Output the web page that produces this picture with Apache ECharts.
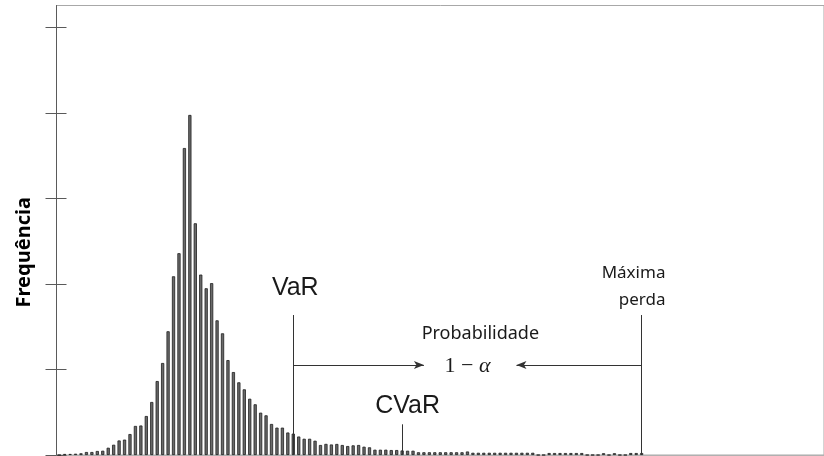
<!DOCTYPE html>
<html lang="pt">
<head>
  <meta charset="UTF-8">
  <title>VaR e CVaR</title>
  <script src="https://cdn.jsdelivr.net/npm/echarts@6/dist/echarts.min.js"></script>
  <style>
    body { margin: 0; background: #fff; }
    #main { width: 824px; height: 456px; }
  </style>
</head>
<body>
<div id="main"></div>
<script>
  // histograma das perdas (frequência por classe)
  const binCount = 141;
  const freq = [
    0,
    1.2, 1.2, 1.5, 2, 3.5, 3.5, 4.7, 5, 8.5, 12,
    17, 18, 24.5, 34, 34.5, 45.6, 62, 86.5, 107.6, 144.7,
    209, 236, 359, 397.7, 271, 211, 195, 201, 157.5, 142.3,
    111, 97, 85, 76.8, 65.8, 59.3, 49.5, 46.4, 36.3, 32,
    32, 26.3, 25, 21.6, 19, 19, 16.7, 11.7, 13, 12.3,
    12.9, 11.7, 10.5, 11.3, 11.7, 9.7, 9, 6.2, 6.2, 6.2,
    5.8, 5.8, 5.3, 5, 5, 3.2, 3.2, 3.2, 3.2, 3.2,
    3.2, 3.2, 3.2, 3.2, 4.1, 2.6, 2.6, 2.6, 2.6, 2.6,
    2.6, 2.6, 2.6, 2.6, 2.6, 2.6, 2.6, 0, 0, 2.3,
    2.3, 2.3, 2.3, 2.3, 2.3, 2.3, 0, 0, 0, 2.1,
    0, 2.1, 0, 0, 2.3, 2.3, 2.3
  ];
  const yTicks = [0, 100, 200, 300, 400, 500];
  const yMax = 525.7;

  // posições das marcas (índice da classe, altura)
  const varBin = 43, cvarBin = 63, maxBin = 107;
  const markerTop = 163.7, cvarTop = 35.9, arrowLevel = 105.3;
  const arrowTipRight = 67, arrowTipLeft = 84;

  const bins = Array.from({ length: binCount }, (_, i) => String(i));

  const chart = echarts.init(document.getElementById('main'));

  const sansTxt = { fontFamily: 'Liberation Sans', fontSize: 25, color: '#1a1a1a' };
  const notoTxt = { fontFamily: 'Noto Sans', fontSize: 17, color: '#1a1a1a' };

  chart.setOption({
    animation: false,
    grid: {
      left: 56.5, right: -2, top: 5.5, bottom: 1,
      show: true, borderColor: '#a8a8a8', borderWidth: 1
    },
    xAxis: {
      type: 'category',
      data: bins,
      axisLine: { lineStyle: { color: '#b0b0b0' } },
      axisTick: { show: false },
      axisLabel: { show: false }
    },
    yAxis: [
      {
        type: 'value', min: 0, max: yMax, position: 'left',
        name: 'Frequência',
        nameLocation: 'middle',
        nameGap: 22,
        nameTextStyle: {
          fontFamily: 'Noto Sans', fontWeight: 'bold', fontSize: 20,
          color: '#000', padding: [0, 44, 0, 0]
        },
        axisLine: { show: true, lineStyle: { color: '#5a5a5a' } },
        axisTick: { show: true, length: 11, customValues: yTicks, lineStyle: { color: '#5a5a5a' } },
        axisLabel: { show: false },
        splitLine: { show: false }
      },
      {
        type: 'value', min: 0, max: yMax, position: 'left', offset: 0,
        axisLine: { show: false },
        axisTick: { show: true, inside: true, length: 10, customValues: yTicks, lineStyle: { color: '#5a5a5a' } },
        axisLabel: { show: false },
        splitLine: { show: false }
      }
    ],
    series: [
      {
        type: 'bar',
        data: freq,
        barWidth: 3.2,
        itemStyle: { color: '#6a6a6a', borderColor: '#1e1e1e', borderWidth: 0.8 },
        markLine: {
          silent: true,
          symbol: ['none', 'none'],
          lineStyle: { color: '#333', width: 1, type: 'solid' },
          label: { show: false },
          data: [
            [{ coord: [varBin, 0] }, { coord: [varBin, markerTop] }],
            [{ coord: [cvarBin, 0] }, { coord: [cvarBin, cvarTop] }],
            [{ coord: [maxBin, 0] }, { coord: [maxBin, markerTop] }],
            [{ coord: [varBin, arrowLevel] },
             { coord: [arrowTipRight, arrowLevel], symbol: 'arrow', symbolSize: [6, 10] }],
            [{ coord: [maxBin, arrowLevel] },
             { coord: [arrowTipLeft, arrowLevel], symbol: 'arrow', symbolSize: [6, 10] }]
          ]
        },
        markPoint: {
          silent: true,
          symbol: 'rect',
          symbolSize: 1,
          itemStyle: { color: 'transparent' },
          label: { show: true, position: 'inside', formatter: '{b}' },
          data: [
            { name: 'VaR', coord: [43, 195.3], label: Object.assign({ offset: [2, 0] }, sansTxt) },
            { name: 'CVaR', coord: [64, 57.1], label: Object.assign({ offset: [0, 0] }, sansTxt) },
            { name: 'Probabilidade', coord: [77, 142.1], label: Object.assign({ offset: [2, 0] }, notoTxt, { fontSize: 18 }) },
            {
              name: '1 − α', coord: [75, 104],
              label: {
                formatter: '1 − {a|α}',
                fontFamily: 'Liberation Serif', fontSize: 22, color: '#1a1a1a',
                rich: { a: { fontFamily: 'Liberation Serif', fontStyle: 'italic', fontSize: 22, color: '#1a1a1a' } }
              }
            },
            {
              name: 'Máxima\nperda', coord: [111, 196.5],
              label: Object.assign({ align: 'right', lineHeight: 27, offset: [2, 0] }, notoTxt)
            }
          ]
        }
      }
    ]
  });
</script>
</body>
</html>
